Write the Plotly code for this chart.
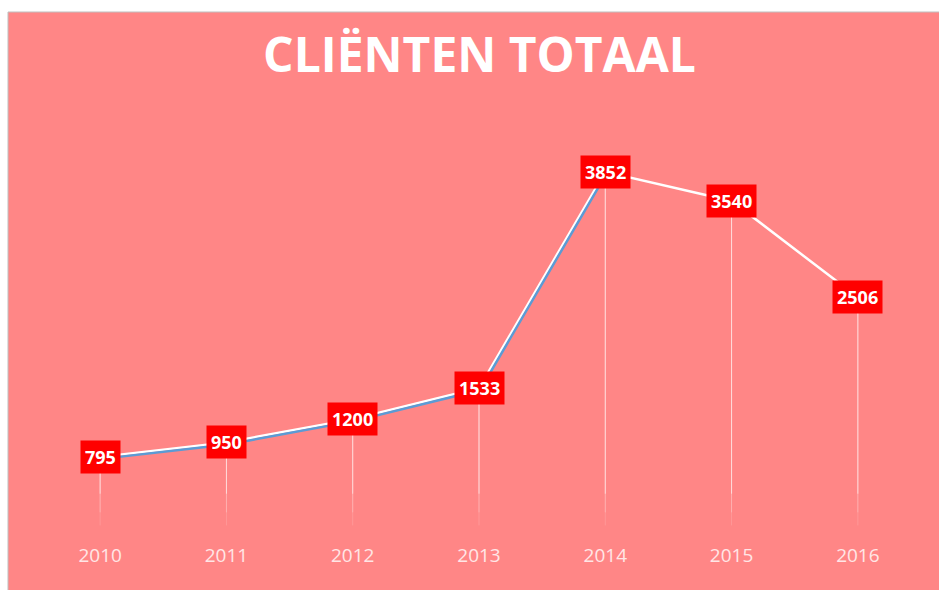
import plotly.graph_objects as go

# ---- data ----
years = ["2010", "2011", "2012", "2013", "2014", "2015", "2016"]
clients = [795, 950, 1200, 1533, 3852, 3540, 2506]
title_text = "CLIËNTEN TOTAAL"

# ---- style ----
PINK = "#FF8686"
W, H = 939, 590
ML, MR, MT, MB = 37, 17, 80, 57
plot_w = W - ML - MR
plot_h = H - MT - MB
DX, DY = 1, 2  # shadow offset (px)
YMAX = 4837

fig = go.Figure()

# drop lines (fading toward the axis), built as stacked error bars
fade_layers = [(400, 0.55), (200, 0.25), (60, 0.15)]
for stop, alpha in fade_layers:
    fig.add_trace(go.Scatter(
        x=years, y=clients, mode="markers",
        marker=dict(size=0.1, color="rgba(0,0,0,0)"),
        error_y=dict(type="data", symmetric=False,
                     array=[0] * len(clients),
                     arrayminus=[v - stop for v in clients],
                     color=f"rgba(255,255,255,{alpha})", thickness=1, width=0),
        hoverinfo="skip", showlegend=False, xaxis="x", yaxis="y"))

# blue shadow line (on a 1-2 px shifted axis pair)
fig.add_trace(go.Scatter(
    x=years[:5], y=clients[:5], mode="lines",
    line=dict(color="#5B9BD5", width=2.5),
    hoverinfo="skip", showlegend=False, xaxis="x2", yaxis="y2"))

# main white line
fig.add_trace(go.Scatter(
    x=years, y=clients, mode="lines",
    line=dict(color="white", width=2.5),
    showlegend=False, xaxis="x", yaxis="y"))

# data labels (category index positions)
for i, v in enumerate(clients):
    fig.add_annotation(x=i, y=v, xref="x", yref="y", text=f"<b>{v}</b>",
                       showarrow=False, bgcolor="#FF0000", borderpad=4,
                       font=dict(family="Open Sans", size=18, color="white"))

# background panel with grey left/top border
px2x = lambda p: (p - ML) / plot_w
px2y = lambda p: (H - MB - p) / plot_h
fig.add_shape(type="rect", xref="paper", yref="paper", layer="below",
              x0=px2x(8), x1=px2x(W + 5), y0=px2y(H + 5), y1=px2y(12),
              fillcolor=PINK, line=dict(color="#BFBFBF", width=1))

fig.update_layout(
    width=W, height=H,
    margin=dict(l=ML, r=MR, t=MT, b=MB),
    paper_bgcolor="white", plot_bgcolor="rgba(0,0,0,0)",
    title=dict(text=f"<b>{title_text}</b>", x=0.5, xref="paper",
               y=1 - 55 / H, yref="container", xanchor="center", yanchor="middle",
               font=dict(family="Open Sans", size=48, color="white")),
    xaxis=dict(type="category", domain=[0, 1 - DX / plot_w], range=[-0.5, 6.5],
               categoryorder="array", categoryarray=years,
               showgrid=False, zeroline=False, showline=False, ticks="",
               tickfont=dict(family="Open Sans", size=19, color="#FFE6E6"),
               ticklabelstandoff=11),
    yaxis=dict(domain=[DY / plot_h, 1], range=[0, YMAX], visible=False,
               showgrid=False, zeroline=False),
    xaxis2=dict(type="category", domain=[DX / plot_w, 1], range=[-0.5, 6.5],
                visible=False, anchor="y2", categoryorder="array", categoryarray=years),
    yaxis2=dict(domain=[0, 1 - DY / plot_h], range=[0, YMAX], visible=False,
                anchor="x2"),
    showlegend=False,
)

fig.write_html(
    "out.html",
    config={"displayModeBar": False},
    post_script=("document.body.style.margin='0';"
                 "document.body.style.overflow='hidden';"
                 "document.documentElement.style.overflow='hidden';"),
)
